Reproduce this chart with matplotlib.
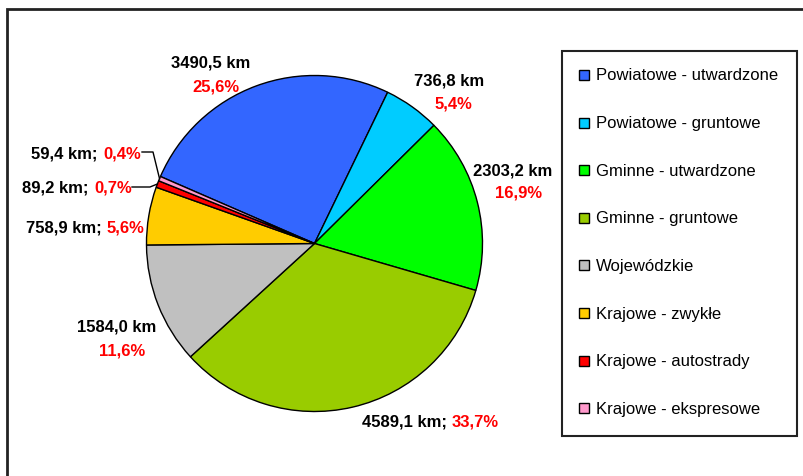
import numpy as np
import matplotlib
matplotlib.use('Agg')
import matplotlib.pyplot as plt
from matplotlib.patches import Rectangle

plt.rcParams['font.family'] = ['Liberation Sans', 'DejaVu Sans']

# data
names = ['Powiatowe - utwardzone', 'Powiatowe - gruntowe', 'Gminne - utwardzone',
         'Gminne - gruntowe', 'Wojewódzkie', 'Krajowe - zwykłe',
         'Krajowe - autostrady', 'Krajowe - ekspresowe']
values = [3490.5, 736.8, 2303.2, 4589.1, 1584.0, 758.9, 89.2, 59.4]
colors = ['#3366FF', '#00CCFF', '#00FF00', '#99CC00', '#C0C0C0', '#FFCC00',
          '#FF0000', '#FF99CC']

# label layout (pixel coords, y from top)
# 'stack': (x_black, y_black, x_red, y_red) ; 'inline': (x_red_start, y)
label_layout = [
    ('stack', (211, 63, 216, 87)),
    ('stack', (449, 81, 453, 104)),
    ('stack', (513, 171, 519, 193)),
    ('inline', (452, 422)),
    ('stack', (117, 327, 122, 351)),
    ('inline', (107, 228)),
    ('inline', (94, 188)),
    ('inline', (103, 154)),
]
leaders = {6: [(132, 188), (150, 188)], 7: [(142, 153), (153, 153)]}

W, H = 804, 477
def py(y):
    return H - y

def fmt(v, d=1):
    return ('%.*f' % (d, v)).replace('.', ',')

fig = plt.figure(figsize=(W / 100, H / 100), dpi=100)
ax = fig.add_axes([0, 0, 1, 1])

cx, cy, r = 314.5, 244.5, 168
wedges, _ = ax.pie(values, colors=colors, startangle=156.5, counterclock=False,
                   center=(cx, py(cy)), radius=r,
                   wedgeprops=dict(edgecolor='black', linewidth=1))
ax.set_xlim(0, W)
ax.set_ylim(0, H)
ax.set_aspect('equal')
ax.axis('off')

total = sum(values)
fs = 12
for i, (kind, pos) in enumerate(label_layout):
    km = fmt(values[i]) + ' km'
    pct = fmt(values[i] / total * 100) + '%'
    if kind == 'stack':
        xb, yb, xr, yr = pos
        ax.text(xb, py(yb), km, ha='center', va='center', fontsize=fs,
                fontweight='bold', color='black')
        ax.text(xr, py(yr), pct, ha='center', va='center', fontsize=fs,
                fontweight='bold', color='#FF0000')
    else:
        xr, y = pos
        ax.text(xr - 5, py(y), km + ';', ha='right', va='center', fontsize=fs,
                fontweight='bold', color='black')
        ax.text(xr, py(y), pct, ha='left', va='center', fontsize=fs,
                fontweight='bold', color='#FF0000')

# leader lines to small slices
for i, pts in leaders.items():
    w = wedges[i]
    mid = np.deg2rad((w.theta1 + w.theta2) / 2)
    ex, ey = cx + r * np.cos(mid), cy - r * np.sin(mid)
    xs = [p[0] for p in pts] + [ex]
    ys = [py(p[1]) for p in pts] + [py(ey)]
    ax.plot(xs, ys, color='black', lw=1)

# legend drawn by hand
ax.add_patch(Rectangle((562, py(437)), 797 - 562, 437 - 52, fill=False,
                       edgecolor='#222222', lw=1.5))
for i, name in enumerate(names):
    y = 76 + i * 47.6
    ax.add_patch(Rectangle((579, py(y) - 5), 10, 10, facecolor=colors[i],
                           edgecolor='black', lw=1))
    ax.text(596, py(y), name, ha='left', va='center', fontsize=fs, color='black')

# outer chart border
ax.add_patch(Rectangle((7, py(H + 20)), W + 20, H + 10, fill=False,
                       edgecolor='#222222', lw=2, clip_on=False))

fig.savefig('out.png', dpi=100)
